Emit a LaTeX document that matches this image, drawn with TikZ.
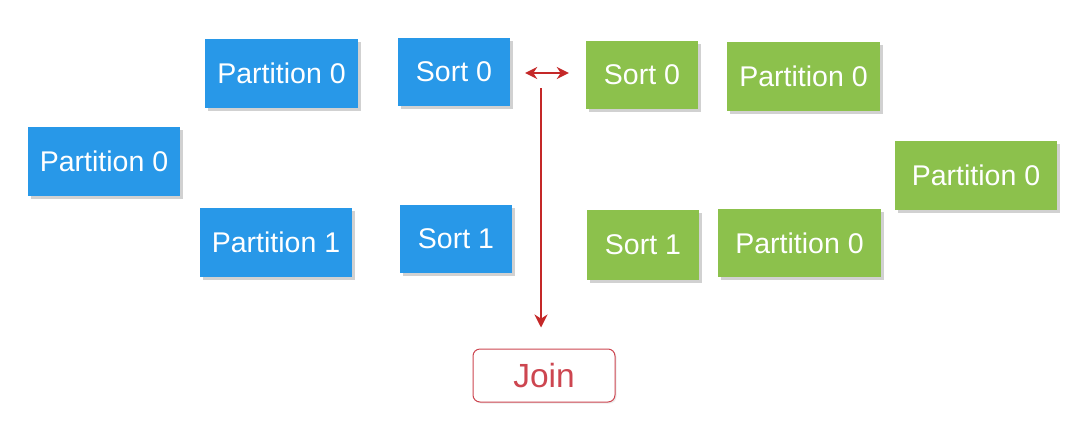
\documentclass[tikz,border=0pt]{standalone}
\usepackage{fontspec}
\setmainfont{Liberation Sans}
\usetikzlibrary{shadows,arrows.meta,calc}
\definecolor{bluebox}{RGB}{40,152,232}
\definecolor{greenbox}{RGB}{140,193,76}
\definecolor{arrowred}{RGB}{196,40,40}
\definecolor{joinred}{RGB}{205,70,80}
\tikzset{
  box/.style={rectangle, draw=none, text=white, font=\fontsize{28.5}{32}\selectfont,
    inner sep=0pt, drop shadow={shadow xshift=3pt, shadow yshift=-3pt, opacity=0.3, fill=black!60}},
  bluebox/.style={box, fill=bluebox},
  greenbox/.style={box, fill=greenbox},
  joinbox/.style={rectangle, rounded corners=7pt, draw=joinred, line width=1pt, fill=white,
    text=joinred, font=\fontsize{33.5}{38}\selectfont, minimum width=142pt, minimum height=53pt,
    drop shadow={shadow xshift=1.5pt, shadow yshift=-1.5pt, opacity=0.15, fill=black!50}},
  redarrow/.style={draw=arrowred, line width=2.6pt},
}
\begin{document}
\begin{tikzpicture}[x=1pt,y=-1pt]
\useasboundingbox (0,0) rectangle (1087,421);
% blue
\node[bluebox, minimum width=152pt, minimum height=69pt] (pL) at (104,161.5) {Partition 0};
\node[bluebox, minimum width=153pt, minimum height=69pt] (pT) at (281.5,73.5) {Partition 0};
\node[bluebox, minimum width=152pt, minimum height=69pt] (pB) at (276,242.5) {Partition 1};
\node[bluebox, minimum width=112pt, minimum height=68pt] (s0b) at (454,72) {Sort 0};
\node[bluebox, minimum width=112pt, minimum height=68pt] (s1b) at (456,239) {Sort 1};
% green
\node[greenbox, minimum width=112pt, minimum height=68pt] (s0g) at (642,75) {Sort 0};
\node[greenbox, minimum width=153pt, minimum height=69pt] (pg1) at (803.5,76.5) {Partition 0};
\node[greenbox, minimum width=162pt, minimum height=69pt] (pg2) at (976,175.5) {Partition 0};
\node[greenbox, minimum width=112pt, minimum height=70pt] (s1g) at (643,245) {Sort 1};
\node[greenbox, minimum width=163pt, minimum height=68pt] (pg3) at (799.5,243) {Partition 0};
% join
\node[joinbox] (join) at (544,375.5) {Join};
% arrows
\coordinate (ha) at ($(s0b.east |- 0,73)$);
\coordinate (hb) at ($(s0g.west |- 0,73)$);
\draw[redarrow, {Stealth[length=12pt,width=12pt]}-{Stealth[length=12pt,width=12pt]}, shorten <=15pt, shorten >=17pt] (ha) -- (hb);
\coordinate (v) at (541,88);
\draw[redarrow, -{Stealth[length=13pt,width=13pt]}, shorten >=21pt] (v) -- (v |- join.north);
\end{tikzpicture}
\end{document}
